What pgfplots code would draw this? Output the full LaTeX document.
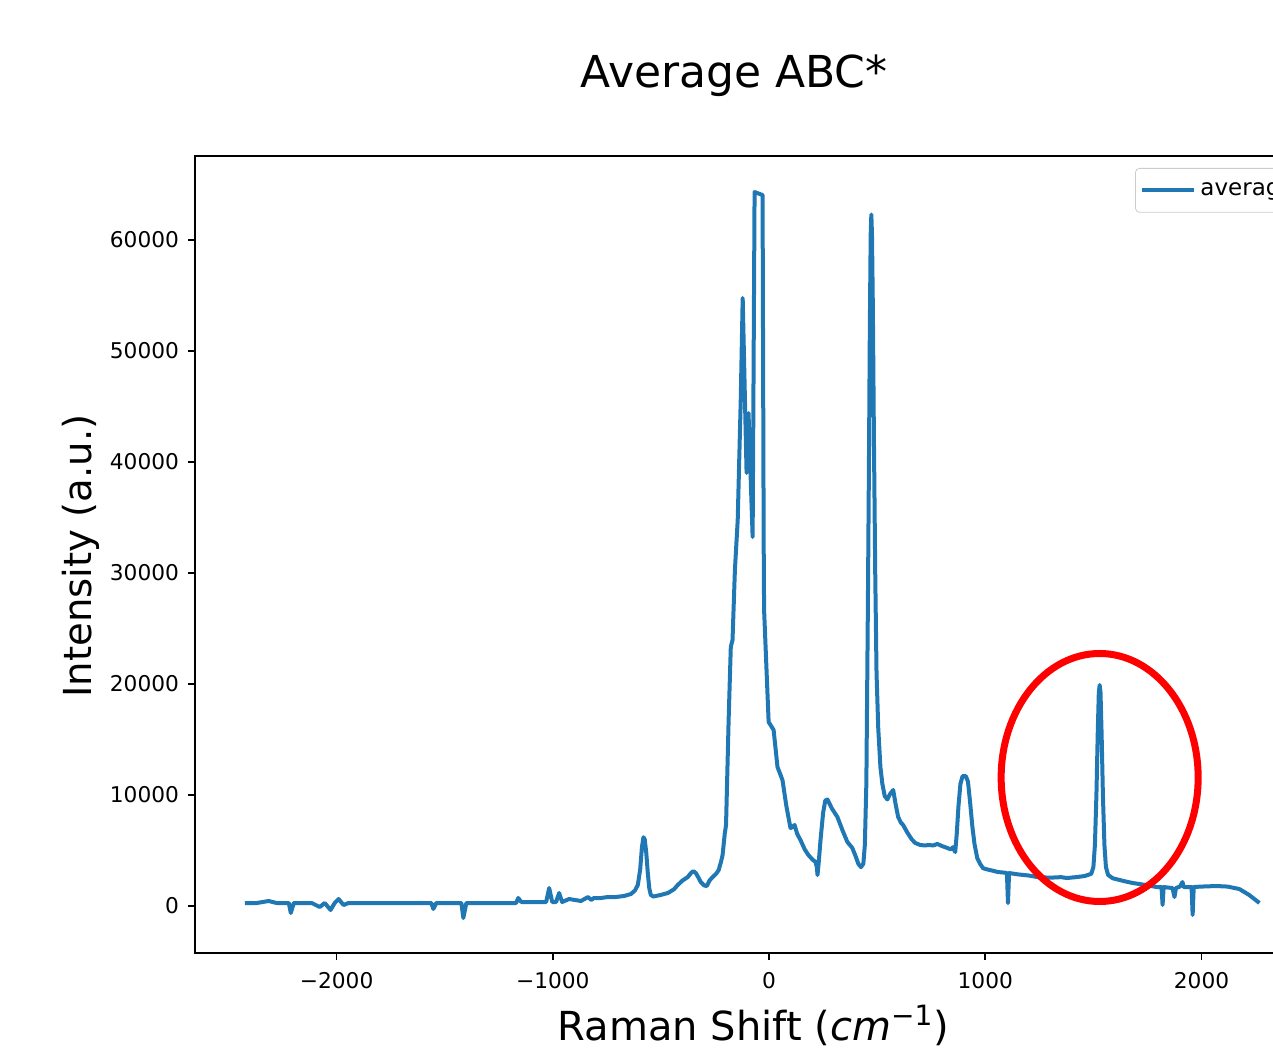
\documentclass[border=0pt]{standalone}
\usepackage{fontspec}
\setmainfont{DejaVu Sans}
\usepackage{pgfplots}
\pgfplotsset{compat=1.18}
\definecolor{mplblue}{HTML}{1F77B4}
\pgfplotstableread{
x y
-2424 270
-2369 270
-2314 450
-2277 270
-2221 270
-2212 -630
-2198 270
-2115 270
-2078 -90
-2055 270
-2028 -360
-2009 270
-1991 630
-1968 90
-1945 270
-1792 270
-1700 270
-1562 270
-1553 -270
-1539 270
-1423 270
-1414 -1080
-1400 270
-1239 270
-1170 270
-1160 720
-1146 360
-1031 360
-1017 1620
-1003 360
-985 360
-971 1170
-957 360
-925 630
-870 450
-837 810
-823 540
-810 720
-777 720
-745 810
-708 810
-671 900
-639 1080
-620 1400
-607 1900
-596 3300
-588 5300
-581 6200
-575 6000
-568 4800
-561 3000
-554 1600
-547 1000
-535 850
-524 900
-500 1000
-468 1170
-440 1500
-422 1900
-400 2300
-376 2610
-362 2950
-350 3150
-338 2950
-325 2500
-316 2160
-300 1850
-288 1800
-275 2300
-261 2610
-245 2900
-233 3240
-222 4000
-215 4590
-205 6500
-199 7300
-187 16760
-177 23330
-169 23960
-158 30270
-145 34770
-131 45590
-122 54770
-104 39010
-95 44410
-76 33240
-67 64320
-30 64050
-25 32970
-23 26670
-2 16580
21 15860
39 12520
62 11350
80 9000
99 7030
108 7100
118 7300
130 6500
145 5950
165 5100
182 4590
200 4200
215 3960
221 3500
224 2790
230 4000
238 5950
250 8400
260 9500
270 9600
290 8800
316 8020
340 6800
362 5770
385 5230
400 4500
413 3800
425 3500
436 3800
443 5500
450 11080
457 27000
462 40000
466 52000
470 60500
473 62300
476 60500
480 54000
485 42000
491 30000
497 21000
505 16000
515 12500
524 11000
535 9900
547 9600
560 10100
574 10450
585 9200
597 8020
610 7500
620 7300
640 6600
660 6000
676 5680
699 5500
720 5450
740 5500
759 5450
778 5590
800 5400
824 5230
840 5100
851 5300
857 5000
861 4860
868 6500
876 9000
885 11000
895 11700
910 11700
920 11200
930 9300
940 7200
950 5600
963 4300
976 3800
990 3400
1008 3300
1030 3200
1059 3060
1091 3000
1100 2950
1105 270
1110 2970
1150 2850
1200 2750
1239 2610
1300 2550
1350 2600
1377 2520
1420 2600
1460 2700
1490 2900
1500 3500
1507 5500
1514 10000
1520 15500
1525 19200
1529 19910
1533 19200
1538 15500
1544 10000
1551 5500
1558 3500
1568 2800
1589 2500
1640 2250
1682 2070
1740 1900
1792 1710
1815 1710
1820 90
1825 1710
1850 1650
1866 1620
1875 810
1882 1620
1900 1750
1912 2160
1918 1700
1940 1700
1954 1710
1959 -810
1964 1710
2000 1750
2069 1800
2120 1750
2175 1530
2220 1000
2268 270
}\avgdata
\begin{document}
\begin{tikzpicture}[x=1pt,y=1pt]
\path[use as bounding box] (0,0) rectangle (636.5,524);
\clip (0,0) rectangle (636.5,524);
\begin{axis}[
  at={(97.5pt,47.5pt)}, anchor=south west,
  scale only axis, width=560pt, height=398.5pt,
  xmin=-2655, xmax=2525, ymin=-4234, ymax=67568,
  xtick={-2000,-1000,0,1000,2000},
  xticklabels={−2000,−1000,0,1000,2000},
  ytick={0,10000,20000,30000,40000,50000,60000},
  yticklabels={0,10000,20000,30000,40000,50000,60000},
  scaled ticks=false,
  xtick pos=bottom, ytick pos=left,
  tick align=outside, major tick length=3.5pt,
  tick style={black, line width=0.8pt},
  axis line style={line width=1pt},
  tick label style={font=\fontsize{10.85}{13}\selectfont},
  xticklabel style={yshift=-2.5pt},
  yticklabel style={xshift=-1pt},
  legend style={at={(1,1)}, anchor=north east, xshift=-5.5pt, yshift=-6pt,
    draw=black!20, rounded corners=2pt, font=\fontsize{11.5}{14}\selectfont,
    inner xsep=2.5pt, inner ysep=5pt},
  legend cell align=left,
  legend image code/.code={\draw[#1] (0pt,0pt) -- (19pt,0pt); \path (0pt,0pt) -- (26pt,0pt);},
]
\addplot[mplblue, line width=2pt, line join=round] table {\avgdata};
\addlegendentry{average}
\draw[red, line width=3.5pt] (axis cs:1529,11577) ellipse [x radius=49.25pt, y radius=62pt];
\end{axis}
\node[anchor=base, font=\fontsize{22}{26}\selectfont] at (367,480) {Average ABC*};
\node[anchor=base, font=\fontsize{20}{24}\selectfont] at (376.75,3.5) {Raman Shift (\textit{cm}\textsuperscript{−1})};
\node[anchor=base, rotate=90, font=\fontsize{19.3}{23}\selectfont] at (45.5,246) {Intensity (a.u.)};
\end{tikzpicture}
\end{document}
